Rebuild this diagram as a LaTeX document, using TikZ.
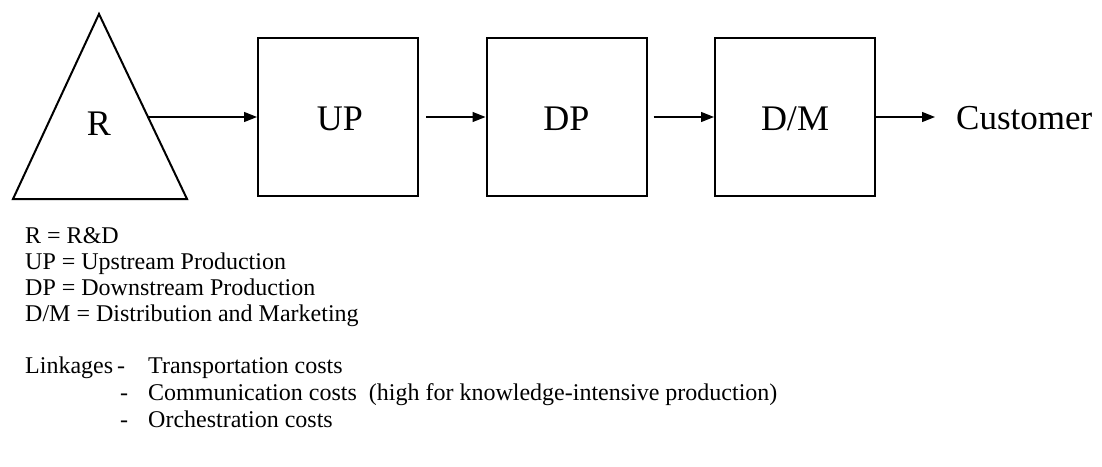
\documentclass[tikz,border=0pt]{standalone}
\usepackage{fontspec}
\setmainfont{Liberation Serif}
\usetikzlibrary{arrows.meta}
\begin{document}
\begin{tikzpicture}[x=1pt,y=-1pt,
  stage/.style={draw, line width=2pt, minimum width=160pt, minimum height=158pt, inner sep=0pt},
  flow/.style={-{Triangle[length=13pt,width=10pt]}, line width=1.3pt},
  bigtext/.style={anchor=base, inner sep=0pt, font=\fontsize{36}{42}\selectfont},
  legend/.style={anchor=base west, inner sep=0pt, font=\fontsize{24}{28}\selectfont}]
\useasboundingbox (0,0) rectangle (1102,466);

% R&D triangle
\coordinate (ta) at (99,14);
\coordinate (tl) at (13,199);
\coordinate (tr) at (187,199);
\draw[line width=2pt, line join=miter] (ta) -- (tl) -- (tr) -- cycle;
\node[bigtext] (r) at (99,135) {R};
\coordinate (rout) at (148,117);

% value chain stages
\node[stage] (up) at (338,117) {};
\node[stage] (dp) at (566.5,117) {};
\node[stage] (dm) at (795,117) {};
\node[bigtext] (upl) at (340,130) {UP};
\node[bigtext] (dpl) at (566.5,130) {DP};
\node[bigtext] (dml) at (795,130) {D/M};
\node[bigtext, anchor=base west, font=\fontsize{35}{42}\selectfont] (cust) at (956,129) {Customer};

% flows
\draw[flow] (rout) -- (up.west);
\draw[flow] ([xshift=7pt]up.east) -- (dp.west);
\draw[flow] ([xshift=6pt]dp.east) -- (dm.west);
\draw[flow] (dm.east) -- (935,117) coordinate (custin);

% legend
\node[legend] (k1) at (25,243) {R = R\&D};
\node[legend] (k2) at (25,269) {UP = Upstream Production};
\node[legend] (k3) at (25,295) {DP = Downstream Production};
\node[legend] (k4) at (25,321) {D/M = Distribution and Marketing};

% linkage costs
\node[legend] (lk) at (25,373) {Linkages};
\node[legend] (d1) at (117,373) {-};
\node[legend] (c1) at (148,373) {Transportation costs};
\node[legend] (d2) at (120,400) {-};
\node[legend] (c2) at (148,400) {Communication costs\hspace{0.5em}(high for knowledge-intensive production)};
\node[legend] (d3) at (120,427) {-};
\node[legend] (c3) at (148,427) {Orchestration costs};
\end{tikzpicture}
\end{document}
